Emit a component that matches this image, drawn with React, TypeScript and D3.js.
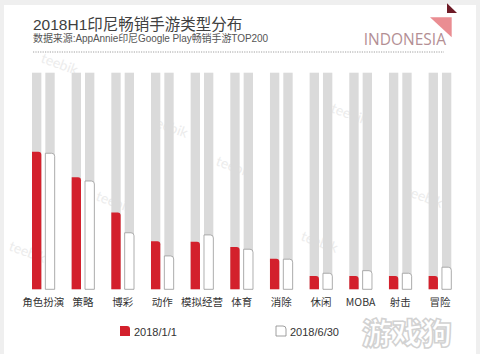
import React from 'react';
import * as d3 from 'd3';

// data (share of TOP200, %)
const categories = ['角色扮演', '策略', '博彩', '动作', '模拟经营', '体育', '消除', '休闲', 'MOBA', '射击', '冒险'];
const series = ['2018/1/1', '2018/6/30'];
const jan = [63.5, 51.7, 35.4, 22.2, 22.0, 19.5, 14.1, 6.1, 6.1, 6.1, 6.1];
const jun = [62.8, 50.0, 26.1, 15.4, 25.1, 18.5, 13.9, 7.4, 8.6, 7.4, 10.2];
const maxValue = 100;

const title = '2018H1印尼畅销手游类型分布';
const subtitle = '数据来源:AppAnnie印尼Google Play畅销手游TOP200';

const W = 480;
const H = 354;
const FONT = '"Noto Sans CJK SC", "Noto Sans", sans-serif';
const HEAD_FONT = '"Liberation Sans", "Noto Sans CJK SC", sans-serif';

// rect with a rounded top-right corner
const barPath = (x: number, y: number, w: number, h: number, r: number) => {
  const rr = Math.min(r, h, w);
  return `M${x},${y + h}V${y}H${x + w - rr}Q${x + w},${y} ${x + w},${y + rr}V${y + h}Z`;
};

// faint background watermarks, kept away from the labels
const watermarks = [
  [40, 62], [150, 125], [8, 250], [215, 165], [330, 112], [405, 195], [95, 200], [300, 240]
];

export default function App() {
  const baseline = 289.3;
  const top = 72.7;

  const x = d3.scaleBand<string>()
    .domain(categories)
    .range([32, 451.3])
    .paddingInner(0.428)
    .paddingOuter(0);

  const xSub = d3.scaleBand<string>()
    .domain(series)
    .range([0, x.bandwidth()])
    .paddingInner(0.3);

  const y = d3.scaleLinear().domain([0, maxValue]).range([baseline, top]);

  const values = [jan, jun];
  const bw = xSub.bandwidth();

  return (
    <svg width={W} height={H} style={{ position: 'absolute', left: 0, top: 0, fontFamily: FONT }}>
      <rect width={W} height={H} fill="#efefef" />
      <rect x={4} y={5} width={W - 8} height={H - 5} fill="#ffffff" />

      {watermarks.map(([wx, wy], i) => (
        <text key={i} x={wx} y={wy} transform={`rotate(20 ${wx} ${wy})`}
          fontSize={14} fill="#ececec" fontFamily="Lato, sans-serif">teebik</text>
      ))}

      {/* header */}
      <text x={33} y={29.5} fontSize={15.5} fill="#404040" fontFamily={HEAD_FONT}>{title}</text>
      <text x={33} y={42} fontSize={10} fill="#555" fontFamily={HEAD_FONT} textLength={235}>{subtitle}</text>
      <line x1={33} x2={444} y1={52} y2={52} stroke="#888" strokeWidth={0.8} strokeDasharray="1.2,1.2" />
      <text x={446} y={45} textAnchor="end" fontSize={15.5} fill="#b38f94"
        fontFamily='"Open Sans", sans-serif'>INDONESIA</text>
      <path d="M430,17.3H451.7V37.3Z" fill="#ea8d92" />
      <path d="M447,3.3L457,13H447Z" fill="#6e1b27" />

      {/* gray background bars */}
      {categories.map((c) =>
        series.map((s) => (
          <rect key={`${c}-${s}-bg`} x={(x(c) ?? 0) + (xSub(s) ?? 0)} y={y(maxValue)}
            width={bw} height={baseline - y(maxValue)} fill="#dadada" />
        ))
      )}

      {/* value bars */}
      {categories.map((c, i) =>
        series.map((s, j) => {
          const v = values[j][i];
          const bx = (x(c) ?? 0) + (xSub(s) ?? 0);
          return (
            <path key={`${c}-${s}`} d={barPath(bx, y(v), bw, baseline - y(v), 3)}
              fill={j === 0 ? '#d3202c' : '#ffffff'}
              stroke={j === 0 ? 'none' : '#9a9a9a'} strokeWidth={0.8} />
          );
        })
      )}

      {/* category labels */}
      {categories.map((c) => (
        <text key={c} x={(x(c) ?? 0) + x.bandwidth() / 2} y={306} textAnchor="middle"
          fontSize={10.5} fill="#333">{c}</text>
      ))}

      {/* legend */}
      {series.map((s, j) => {
        const lx = j === 0 ? 120 : 276;
        return (
          <g key={s} transform={`translate(${lx},326)`}>
            <path d={barPath(0, 0, 10, 10, 3)} fill={j === 0 ? '#d3202c' : '#fff'}
              stroke={j === 0 ? 'none' : '#888'} strokeWidth={0.8} />
            <text x={14} y={9.5} fontSize={11} fill="#333" fontFamily='"Liberation Sans", Arial, sans-serif'>{s}</text>
          </g>
        );
      })}

      {/* site watermark */}
      <text x={362} y={344} fontSize={30} fontWeight={900} fill="#ffffff" stroke="#d2d2d2"
        strokeWidth={1.5} fontFamily='"Liberation Sans", "Noto Sans CJK SC", sans-serif'>游戏狗</text>
    </svg>
  );
}
